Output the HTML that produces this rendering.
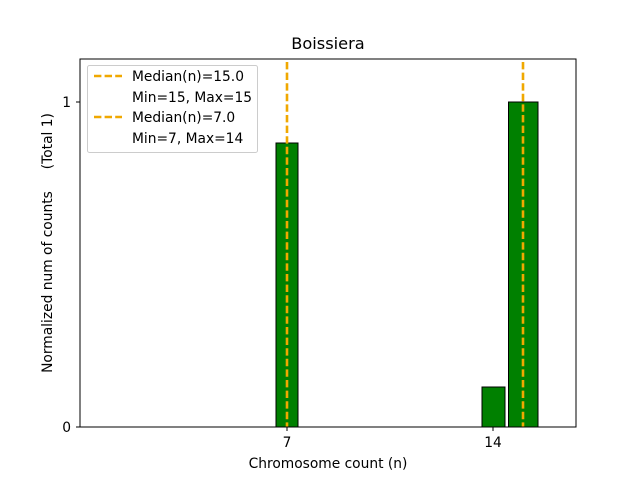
<!DOCTYPE html>
<html><head><style>body{margin:0;background:#fff}</style></head><body>
<svg width="640" height="480" xmlns="http://www.w3.org/2000/svg" font-family="DejaVu Sans, Liberation Sans, sans-serif">
<rect width="640" height="480" fill="#fff"/>
<rect x="276" y="143" width="22" height="284" fill="#008000" stroke="#000" stroke-width="1"/>
<rect x="482" y="387" width="23" height="40" fill="#008000" stroke="#000" stroke-width="1"/>
<rect x="508.5" y="102" width="29.5" height="325" fill="#008000" stroke="#000" stroke-width="1"/>
<line x1="287" y1="62" x2="287" y2="427" stroke="#f0a800" stroke-width="2.6" stroke-dasharray="7.4,3.2"/>
<line x1="523" y1="62" x2="523" y2="427" stroke="#f0a800" stroke-width="2.6" stroke-dasharray="7.4,3.2"/>
<rect x="80" y="59" width="496" height="368" fill="none" stroke="#000" stroke-width="1"/>
<g stroke="#000"><line x1="76" y1="427" x2="80" y2="427"/><line x1="76" y1="102" x2="80" y2="102"/>
<line x1="287" y1="427" x2="287" y2="431"/><line x1="493" y1="427" x2="493" y2="431"/></g>
<g font-size="13.8" fill="#000">
<text x="71" y="432" text-anchor="end">0</text>
<text x="71" y="107" text-anchor="end">1</text>
<text x="287" y="447" text-anchor="middle">7</text>
<text x="493" y="447" text-anchor="middle">14</text>
<text x="328" y="468" text-anchor="middle">Chromosome count (n)</text>
<text transform="translate(52,243) rotate(-90)" text-anchor="middle" xml:space="preserve" style="white-space:pre">Normalized num of counts     (Total 1)</text>
</g>
<text x="328" y="49" font-size="16.2" text-anchor="middle">Boissiera</text>
<rect x="87.5" y="65.5" width="170" height="87" rx="2" fill="#fff" fill-opacity="0.8" stroke="#ccc"/>
<g stroke="#f0a800" stroke-width="2.6" stroke-dasharray="7.4,3.2"><line x1="94" y1="76" x2="122" y2="76"/><line x1="94" y1="117" x2="122" y2="117"/></g>
<g font-size="13.8" fill="#000">
<text x="132" y="81">Median(n)=15.0</text>
<text x="132" y="102">Min=15, Max=15</text>
<text x="132" y="122">Median(n)=7.0</text>
<text x="132" y="143">Min=7, Max=14</text>
</g>
</svg>
</body></html>
